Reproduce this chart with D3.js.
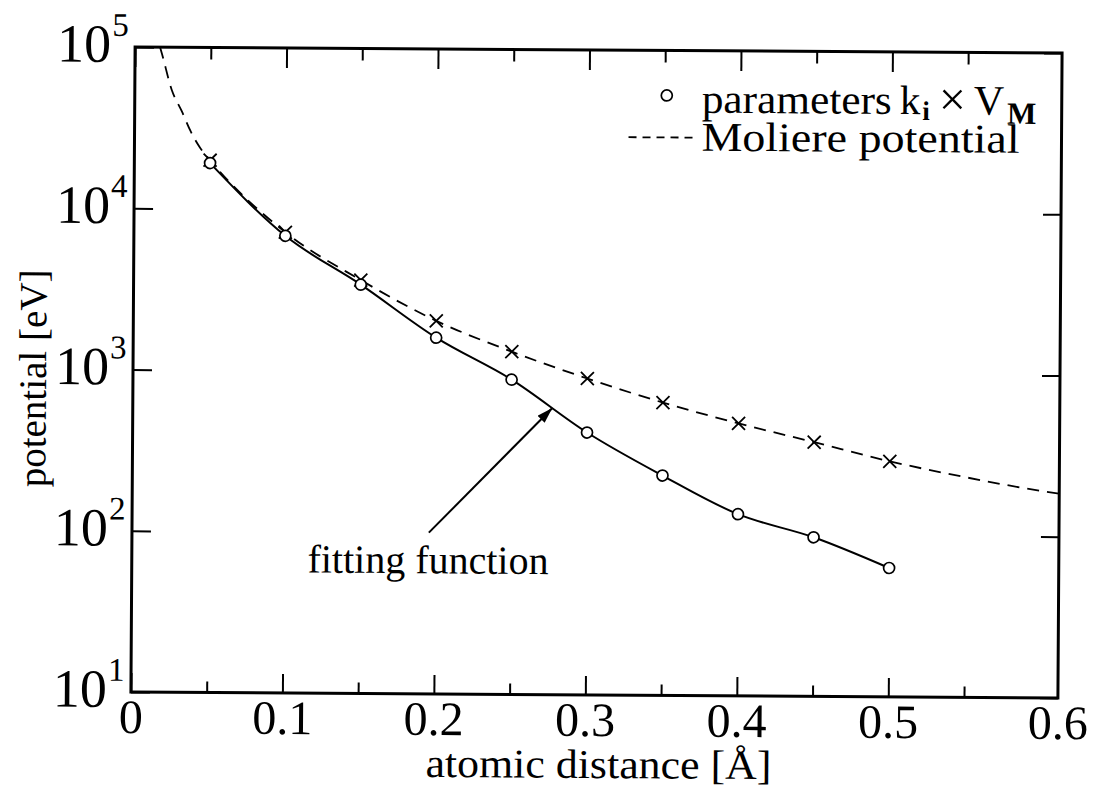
<!DOCTYPE html>
<html>
<head>
<meta charset="utf-8">
<script src="https://cdn.jsdelivr.net/npm/d3@7"></script>
<style>
  body { margin: 0; background: #fff; }
  svg { display: block; }
</style>
</head>
<body>
<svg id="chart" width="1106" height="790" font-family="Liberation Serif, DejaVu Serif, serif"></svg>
<script>
// atomic distance [Å] of the sampled points
const distance = [0.05, 0.10, 0.15, 0.20, 0.25, 0.30, 0.35, 0.40, 0.45, 0.50];
// parameters k_i × V_M (circles, joined by the fitting function)
const fitted = [19200, 6840, 3430, 1620, 896, 424, 231, 134, 97, 63];
// Moliere potential at the same distances (crosses)
const moliere = [20000, 7200, 3660, 2060, 1336, 917, 655, 490, 377, 289];
// extra samples of the Moliere curve outside the crosses
const moliereHeadX = [0.0165, 0.0178, 0.0244, 0.031, 0.037, 0.043];
const moliereHeadY = [100000, 90800, 54300, 40300, 30200, 24100];
const moliereTailX = [0.55, 0.60, 0.612];
const moliereTailY = [232, 192, 185];

// axes
const xDomain = [0, 0.612];
const yDomain = [10, 100000];
const xMajor = [0, 0.1, 0.2, 0.3, 0.4, 0.5];
const xMinor = [0.05, 0.15, 0.25, 0.35, 0.45, 0.55];
const xLabelValues = [0, 0.1, 0.2, 0.3, 0.4, 0.5, 0.612];
const xLabels = ["0", "0.1", "0.2", "0.3", "0.4", "0.5", "0.6"];
const yExponents = [1, 2, 3, 4, 5];

// annotation
const arrowFrom = [0.196, 100];
const arrowTo = [0.277, 600];
const noteAt = [0.116, 56];

const L = 133, R = 1060, T = 50, B = 695;
const svg = d3.select("#chart");
const g = svg.append("g").attr("transform", "rotate(0.37, 596.5, 372.5)");

const x = d3.scaleLinear().domain(xDomain).range([L, R]);
const y = d3.scaleLog().domain(yDomain).range([B, T]);

svg.append("defs").append("marker")
  .attr("id", "head").attr("viewBox", "0 0 16 10")
  .attr("refX", 16).attr("refY", 5)
  .attr("markerWidth", 16).attr("markerHeight", 10)
  .attr("markerUnits", "userSpaceOnUse").attr("orient", "auto")
  .append("path").attr("d", "M0,0 L16,5 L0,10 Z").attr("fill", "#000");

// ticks, pointing inward on all four sides
function tickAxis(axis, size, pos) {
  const a = g.append("g").attr("transform", pos).call(axis.tickSize(size).tickFormat(""));
  a.select(".domain").remove();
  a.selectAll("line").attr("stroke", "#000").attr("stroke-width", 2);
}
tickAxis(d3.axisBottom(x).tickValues(xMajor), -19, `translate(0,${B})`);
tickAxis(d3.axisBottom(x).tickValues(xMinor), -11, `translate(0,${B})`);
tickAxis(d3.axisTop(x).tickValues(xMajor), -20, `translate(0,${T})`);
tickAxis(d3.axisTop(x).tickValues(xMinor), -12, `translate(0,${T})`);
const decades = yExponents.map(e => Math.pow(10, e));
tickAxis(d3.axisLeft(y).tickValues(decades), -19, `translate(${L},0)`);
tickAxis(d3.axisRight(y).tickValues(decades), -18, `translate(${R},0)`);

// frame
g.append("rect").attr("x", L).attr("y", T).attr("width", R - L).attr("height", B - T)
  .attr("fill", "none").attr("stroke", "#000").attr("stroke-width", 3);

// x tick labels
g.selectAll("text.xl").data(xLabels).join("text").attr("class", "xl")
  .attr("x", (d, i) => x(xLabelValues[i])).attr("y", B + 41)
  .attr("text-anchor", "middle").attr("font-size", 48).text(d => d);

// y tick labels 10^n
const yl = g.selectAll("g.yl").data(yExponents).join("g").attr("class", "yl");
yl.append("text").attr("x", L - 24).attr("y", d => y(Math.pow(10, d)) + 15)
  .attr("text-anchor", "end").attr("font-size", 54).text("10");
yl.append("text").attr("x", L - 23).attr("y", d => y(Math.pow(10, d)) - 11)
  .attr("font-size", 33).text(d => d);

// axis titles
g.append("text").attr("x", 428).attr("y", 778)
  .attr("font-size", 41).attr("textLength", 346).attr("lengthAdjust", "spacingAndGlyphs")
  .text("atomic distance [Å]");
g.append("text").attr("transform", "translate(46,382) rotate(-90)")
  .attr("text-anchor", "middle").attr("font-size", 39).text("potential [eV]");

// Moliere potential, dashed
const molPts = moliereHeadX.map((d, i) => [d, moliereHeadY[i]])
  .concat(distance.map((d, i) => [d, moliere[i]]))
  .concat(moliereTailX.map((d, i) => [d, moliereTailY[i]]));
const line = d3.line().x(d => x(d[0])).y(d => y(d[1])).curve(d3.curveMonotoneX);
g.append("path").attr("d", line(molPts)).attr("fill", "none")
  .attr("stroke", "#000").attr("stroke-width", 1.8).attr("stroke-dasharray", "12,8");

// fitting function, solid
const fitPts = distance.map((d, i) => [d, fitted[i]]);
g.append("path").attr("d", line(fitPts)).attr("fill", "none")
  .attr("stroke", "#000").attr("stroke-width", 2);

// crosses
const cs = 6.5;
g.selectAll("path.cross").data(distance.map((d, i) => [d, moliere[i]])).join("path")
  .attr("class", "cross")
  .attr("d", d => {
    const px = x(d[0]), py = y(d[1]);
    return `M${px - cs},${py - cs}L${px + cs},${py + cs}M${px - cs},${py + cs}L${px + cs},${py - cs}`;
  })
  .attr("stroke", "#000").attr("stroke-width", 1.8).attr("fill", "none");

// circles
g.selectAll("circle.pt").data(fitPts).join("circle").attr("class", "pt")
  .attr("cx", d => x(d[0])).attr("cy", d => y(d[1])).attr("r", 5.5)
  .attr("fill", "#fff").attr("stroke", "#000").attr("stroke-width", 1.7);

// annotation arrow and label
g.append("line")
  .attr("x1", x(arrowFrom[0])).attr("y1", y(arrowFrom[1]))
  .attr("x2", x(arrowTo[0])).attr("y2", y(arrowTo[1]))
  .attr("stroke", "#000").attr("stroke-width", 2).attr("marker-end", "url(#head)");
g.append("text").attr("x", x(noteAt[0])).attr("y", y(noteAt[1]))
  .attr("font-size", 40).text("fitting function");

// legend: each piece of the first entry is its own text, laid out left to right
g.append("circle").attr("cx", 665).attr("cy", 95).attr("r", 5.5)
  .attr("fill", "#fff").attr("stroke", "#000").attr("stroke-width", 1.7);
const pieces = [
  { t: "parameters", size: 41, dy: 0, weight: "normal", len: 190, gap: 8 },
  { t: "k", size: 41, dy: 0, weight: "normal", gap: 2 },
  { t: "i", size: 27, dy: 6, weight: "bold", gap: 9 },
  { t: "×", size: 48, dy: 1, weight: "normal", gap: 8 },
  { t: "V", size: 42, dy: 0, weight: "normal", gap: 3 },
  { t: "M", size: 31, dy: 9, weight: "bold", gap: 0 }
];
let px = 700;
pieces.forEach(p => {
  const t = g.append("text").attr("x", px).attr("y", 112 + p.dy)
    .attr("font-size", p.size).attr("font-weight", p.weight).text(p.t);
  if (p.len) t.attr("textLength", p.len).attr("lengthAdjust", "spacingAndGlyphs");
  px += (p.len || t.node().getComputedTextLength()) + p.gap;
});
g.append("line").attr("x1", 627).attr("x2", 697).attr("y1", 137).attr("y2", 137)
  .attr("stroke", "#000").attr("stroke-width", 1.8).attr("stroke-dasharray", "8,6");
g.append("text").attr("x", 700).attr("y", 150).attr("font-size", 41)
  .attr("textLength", 318).attr("lengthAdjust", "spacingAndGlyphs").text("Moliere potential");
</script>
</body>
</html>
